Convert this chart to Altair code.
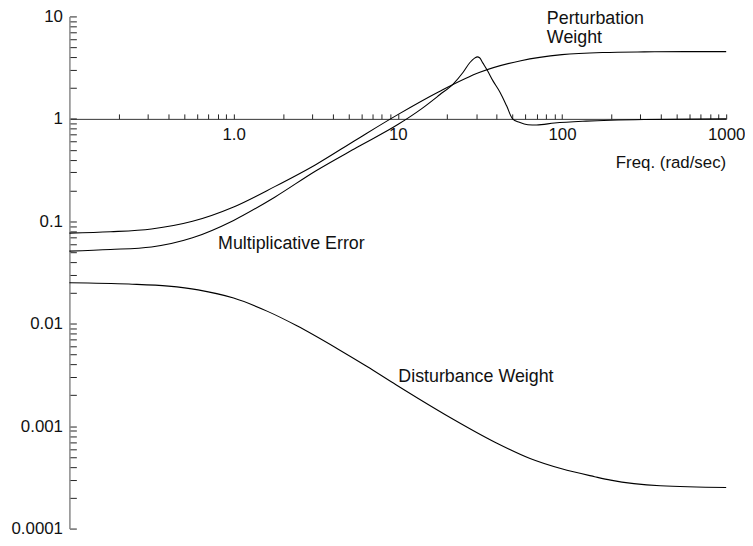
import altair as alt
import pandas as pd

# ---- data (log-log Bode magnitude plot) ----
freq_pw = [0.1, 0.178, 0.316, 0.562, 1, 1.78, 3.16, 5.62, 10, 17.8, 31.6, 56.2, 100, 178, 316, 562, 1000]
pw = [0.0766, 0.0790, 0.0842, 0.100, 0.138, 0.218, 0.357, 0.63, 1.10, 1.84, 2.85, 3.70, 4.24, 4.45, 4.51, 4.53, 4.53]

freq_me = [0.1, 0.178, 0.316, 0.562, 1, 1.78, 3.16, 5.62, 10, 14, 18, 21.8, 25, 27.5, 29.5, 30.5,
           31.5, 33, 35, 38, 42, 46, 50, 55, 62, 70, 90, 140, 316, 1000]
me = [0.0511, 0.0530, 0.0562, 0.069, 0.102, 0.172, 0.31, 0.525, 0.88, 1.26, 1.72, 2.20, 2.85, 3.55, 3.94, 4.03,
      3.95, 3.50, 3.0, 2.35, 1.81, 1.34, 1.0, 0.925, 0.877, 0.872, 0.91, 0.95, 0.985, 1.0]

freq_dw = [0.1, 0.23, 0.401, 0.608, 1.0, 1.61, 2.43, 4.26, 6.46, 9.8, 19.6, 39.6, 63.9, 99.6, 158, 198, 397, 1000]
dw = [0.0251, 0.0244, 0.0233, 0.0214, 0.0178, 0.0132, 0.00955, 0.00574, 0.00384, 0.00252, 0.001285,
      0.000689, 0.000483, 0.000383, 0.000321, 0.000297, 0.000262, 0.000252]

x_major = [1, 10, 100, 1000]
x_minor = [0.2, 0.3, 0.4, 0.5, 0.6, 0.7, 0.8, 0.9,
           2, 3, 4, 5, 6, 7, 8, 9,
           20, 30, 40, 50, 60, 70, 80, 90,
           200, 300, 400, 500, 600, 700, 800, 900]
y_major = [0.0001, 0.001, 0.01, 0.1, 1, 10]
y_minor = [round(m * 10.0 ** k, 6) for k in range(-4, 1) for m in range(2, 10)]

ann_left = ["Perturbation", "Weight", "Multiplicative Error", "Disturbance Weight"]
ann_left_x = [80.9, 80.9, 0.804, 10.07]
ann_left_y = [8.37, 5.45, 0.0542, 0.00272]

ann_right = ["Freq. (rad/sec)"]
ann_right_x = [1000]
ann_right_y = [0.33]

# ---- tables ----
rows = []
for name, fs, vs in [("Perturbation Weight", freq_pw, pw),
                     ("Multiplicative Error", freq_me, me),
                     ("Disturbance Weight", freq_dw, dw)]:
    for f, v in zip(fs, vs):
        rows.append({"series": name, "freq": f, "mag": v})
df = pd.DataFrame(rows)
df_left = pd.DataFrame({"label": ann_left, "freq": ann_left_x, "mag": ann_left_y})
df_right = pd.DataFrame({"label": ann_right, "freq": ann_right_x, "mag": ann_right_y})

W, H = 663, 517
FONT = "Liberation Sans"

x_scale = alt.Scale(type="log", domain=[0.1, 1000], nice=False)
y_scale = alt.Scale(type="log", domain=[0.0001, 10], nice=False)

x_axis = alt.Axis(
    orient="top", offset=-H / 5, values=x_minor + x_major,
    labelExpr="datum.value == 1 ? '1.0' : (indexof([10, 100, 1000], datum.value) >= 0 ? '' + datum.value : '')",
    tickSize=5, tickColor="#222", domainColor="#333", domainWidth=1, tickWidth=1,
    labelBaseline="top", labelPadding=-13, labelFont=FONT, labelFontSize=17,
    labelColor="#111", labelFlush=False, labelOverlap=False, grid=False, title=None,
)
y_axis = alt.Axis(
    orient="right", offset=-W, values=y_minor + y_major,
    labelExpr="indexof([10, 1, 0.1, 0.01, 0.001, 0.0001], datum.value) >= 0 ? '' + datum.value : ''",
    tickSize=7, tickColor="#222", domainColor="#888", domainWidth=1.5, tickWidth=1,
    labelAlign="right", labelBaseline="middle", labelPadding=-14, labelFont=FONT,
    labelFontSize=17, labelColor="#111", labelFlush=False, labelOverlap=False,
    grid=False, title=None,
)

x_enc = alt.X("freq:Q", scale=x_scale, axis=x_axis)
y_enc = alt.Y("mag:Q", scale=y_scale, axis=y_axis)

lines = alt.Chart(df).mark_line(
    color="black", strokeWidth=1.1, interpolate="monotone"
).encode(x=x_enc, y=y_enc, detail="series:N")

text_left = alt.Chart(df_left).mark_text(
    align="left", baseline="alphabetic", font=FONT, fontSize=18, color="#111"
).encode(x=x_enc, y=y_enc, text="label:N")

text_right = alt.Chart(df_right).mark_text(
    align="right", baseline="alphabetic", font=FONT, fontSize=17, color="#111"
).encode(x=x_enc, y=y_enc, text="label:N")

chart = alt.layer(lines, text_left, text_right).properties(
    width=W, height=H,
    padding={"left": 62, "top": 6, "right": 19, "bottom": 8},
    autosize=alt.AutoSizeParams(type="none"),
).configure_view(stroke=None)

chart.save("out.html", embed_options={"renderer": "svg", "actions": False})
